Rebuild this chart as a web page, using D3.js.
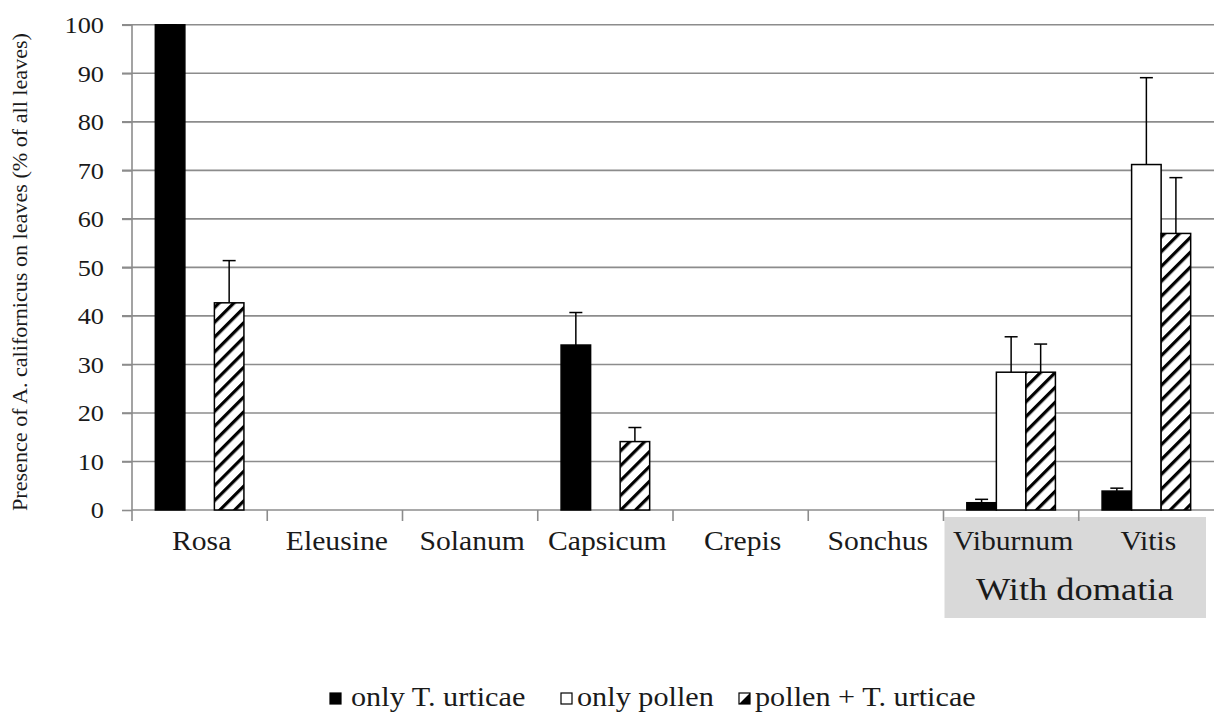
<!DOCTYPE html>
<html>
<head>
<meta charset="utf-8">
<script src="https://cdn.jsdelivr.net/npm/d3@7"></script>
<style>
  body { margin: 0; background: #fff; }
</style>
</head>
<body>
<svg id="chart" width="1214" height="719"></svg>
<script>
// chart data
var plants = ["Rosa", "Eleusine", "Solanum", "Capsicum", "Crepis", "Sonchus", "Viburnum", "Vitis"];
var seriesNames = ["only T. urticae", "only pollen", "pollen + T. urticae"];
var onlyTurticae = [100, 0, 0, 34.0, 0, 0, 1.5, 3.9];
var onlyTurticaeErr = [0, 0, 0, 6.7, 0, 0, 0.7, 0.6];
var onlyPollen = [0, 0, 0, 0, 0, 0, 28.4, 71.2];
var onlyPollenErr = [0, 0, 0, 0, 0, 0, 7.3, 17.9];
var pollenTurticae = [42.7, 0, 0, 14.1, 0, 0, 28.4, 57.0];
var pollenTurticaeErr = [8.7, 0, 0, 2.9, 0, 0, 5.8, 11.5];
var yTicks = [0, 10, 20, 30, 40, 50, 60, 70, 80, 90, 100];
var yLabel = "Presence of A. californicus on leaves (% of all leaves)";
var groupLabel = "With domatia";
var groupPlants = ["Viburnum", "Vitis"];

var values = [onlyTurticae, onlyPollen, pollenTurticae];
var errors = [onlyTurticaeErr, onlyPollenErr, pollenTurticaeErr];
var fills = ["#000", "#fff", "url(#hatch)"];
var serif = "'Liberation Serif', 'Times New Roman', Tinos, 'DejaVu Serif', serif";
var stretch = 1.12; // text in the picture is a bit wider than normal

var svg = d3.select("#chart");
var margin = { left: 132, right: 0, top: 24.8, bottom: 209 };
var width = 1214 - margin.left - margin.right;
var baseY = 510;

var defs = svg.append("defs");
var pat = defs.append("pattern")
    .attr("id", "hatch")
    .attr("patternUnits", "userSpaceOnUse")
    .attr("width", 10.5).attr("height", 10.5)
    .attr("patternTransform", "rotate(45)");
pat.append("rect").attr("width", 10.5).attr("height", 10.5).attr("fill", "#fff");
pat.append("line").attr("x1", 0).attr("y1", 0).attr("x2", 0).attr("y2", 10.5)
    .attr("stroke", "#000").attr("stroke-width", 6.5);

var x0 = d3.scaleBand().domain(plants).range([margin.left, margin.left + width]);
var x1 = d3.scaleBand().domain(seriesNames).range([0, x0.bandwidth()])
    .paddingInner(0).paddingOuter(0.79);
var y = d3.scaleLinear().domain([0, 100]).range([baseY, margin.top]);

function stretchedText(sel, x, yy, size, anchor, str) {
    return sel.append("text")
        .attr("transform", "translate(" + x + "," + yy + ") scale(" + stretch + ",1)")
        .attr("text-anchor", anchor)
        .style("font-size", size + "px")
        .text(str);
}

// "With domatia" grey box
var gx0 = x0(groupPlants[0]);
svg.append("rect")
    .attr("x", gx0 + 1).attr("y", 517)
    .attr("width", 1206 - gx0 - 1).attr("height", 101)
    .attr("fill", "#d9d9d9");
stretchedText(svg, (gx0 + 1206) / 2, 600, 32.5, "middle", groupLabel);

// gridlines
svg.append("g")
    .selectAll("line")
    .data(yTicks.filter(function (d) { return d > 0; }))
    .enter().append("line")
    .attr("x1", margin.left - 10).attr("x2", 1214)
    .attr("y1", function (d) { return y(d); }).attr("y2", function (d) { return y(d); })
    .attr("stroke", "#8c8c8c").attr("stroke-width", 1.6);

// y axis
var yAxis = svg.append("g")
    .attr("transform", "translate(" + margin.left + ",0)")
    .call(d3.axisLeft(y).tickValues(yTicks).tickSize(10).tickSizeOuter(0));
yAxis.attr("font-family", null).attr("font-size", null);
yAxis.select(".domain").attr("stroke", "#8c8c8c").attr("stroke-width", 1.6)
    .attr("d", "M0," + (baseY + 11) + "V" + margin.top);
yAxis.selectAll(".tick line").attr("stroke", "#8c8c8c").attr("stroke-width", 1.6);
yAxis.selectAll(".tick text")
    .style("font-size", "23.5px")
    .attr("transform", "scale(" + stretch + ",1)")
    .attr("x", -28 / stretch)
    .attr("dy", "0.34em");

// x axis baseline and category separators
var xg = svg.append("g");
xg.append("line")
    .attr("x1", margin.left).attr("x2", 1214)
    .attr("y1", baseY).attr("y2", baseY)
    .attr("stroke", "#8c8c8c").attr("stroke-width", 1.6);
xg.selectAll(".sep")
    .data(plants.slice(1))
    .enter().append("line")
    .attr("class", "sep")
    .attr("x1", function (d) { return x0(d); }).attr("x2", function (d) { return x0(d); })
    .attr("y1", baseY).attr("y2", baseY + 11)
    .attr("stroke", "#8c8c8c").attr("stroke-width", 1.6);
plants.forEach(function (p) {
    stretchedText(xg, x0(p) + x0.bandwidth() / 2 + 2, 550, 26.5, "middle", p);
});

// bars
var barData = [];
plants.forEach(function (p, i) {
    seriesNames.forEach(function (s, j) {
        if (values[j][i] > 0) {
            barData.push({ plant: p, series: s, idx: j, value: values[j][i], err: errors[j][i] });
        }
    });
});

var bars = svg.append("g");
bars.selectAll("rect")
    .data(barData)
    .enter().append("rect")
    .attr("x", function (d) { return x0(d.plant) + x1(d.series); })
    .attr("y", function (d) { return y(d.value); })
    .attr("width", x1.bandwidth())
    .attr("height", function (d) { return baseY - y(d.value); })
    .attr("fill", function (d) { return fills[d.idx]; })
    .attr("stroke", "#000").attr("stroke-width", 1.5);

// error bars (upper only)
var eb = svg.append("g").attr("stroke", "#000").attr("stroke-width", 1.5);
barData.forEach(function (d) {
    var cx = x0(d.plant) + x1(d.series) + x1.bandwidth() / 2;
    var top = y(d.value + d.err);
    eb.append("line").attr("x1", cx).attr("x2", cx).attr("y1", y(d.value)).attr("y2", top);
    eb.append("line").attr("x1", cx - 6.5).attr("x2", cx + 6.5).attr("y1", top).attr("y2", top);
});

// y axis title
svg.append("text")
    .attr("transform", "translate(27," + 272 + ") rotate(-90)")
    .attr("text-anchor", "middle")
    .style("font-size", "20.5px")
    .attr("textLength", 478)
    .attr("lengthAdjust", "spacingAndGlyphs")
    .text(yLabel);

// legend
var legendX = [330, 561, 739];
var legend = svg.append("g");
seriesNames.forEach(function (s, j) {
    legend.append("rect")
        .attr("x", legendX[j]).attr("y", 693)
        .attr("width", 11).attr("height", 11)
        .attr("fill", j === 2 ? "#fff" : fills[j])
        .attr("stroke", "#000").attr("stroke-width", 1.2);
    if (j === 2) {
        legend.append("path")
            .attr("d", "M" + legendX[j] + "," + 704 + "l11,-11v11z")
            .attr("fill", "#000");
    }
    stretchedText(legend, legendX[j] + (j === 0 ? 21 : 16), 706, 27, "start", s);
});

svg.selectAll("text").style("font-family", serif).style("fill", "#1a1a1a");
</script>
</body>
</html>
